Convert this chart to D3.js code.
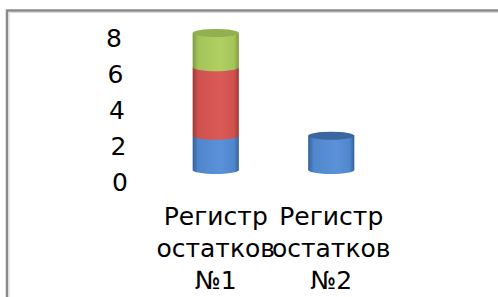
<!DOCTYPE html>
<html>
<head>
<meta charset="utf-8">
<script src="https://cdn.jsdelivr.net/npm/d3@7"></script>
<style>
  body { margin: 0; background: #fff; }
  text { font-family: "DejaVu Sans", Verdana, sans-serif; fill: #000; }
</style>
</head>
<body>
<div id="canvas"></div>
<script>
const width = 498;
const height = 297;

// data
const categories = ["Регистр остатков №1", "Регистр остатков №2"];
const labelLines = [["Регистр", "остатков", "№1"], ["Регистр", "остатков", "№2"]];
const seriesBlue = [2, 2];
const seriesRed = [4, 0];
const seriesGreen = [2, 0];
const tickValues = [0, 2, 4, 6, 8];

const svg = d3.select("#canvas")
    .append("svg")
    .attr("width", width)
    .attr("height", height);

// chart border (runs off the right and bottom edge)
svg.append("rect")
    .attr("x", 7).attr("y", 10.5)
    .attr("width", 600).attr("height", 400)
    .attr("fill", "none")
    .attr("stroke", "#8a8a8a")
    .attr("stroke-width", 2.5);
svg.append("rect")
    .attr("x", 9).attr("y", 12.5)
    .attr("width", 600).attr("height", 400)
    .attr("fill", "none")
    .attr("stroke", "#d8d8d8")
    .attr("stroke-width", 1);

const x = d3.scaleBand()
    .domain(categories)
    .range([158, 389]);

// bar plane (front) and axis plane (back wall) of the 3d chart
const y = d3.scaleLinear().domain([0, 8]).range([170, 33]);
const yAxis = d3.scaleLinear().domain([0, 8]).range([182, 38]);
const xAxis = d3.scaleLinear().domain([0, 8]).range([128, 122]);

svg.append("g").selectAll("text")
    .data(tickValues)
    .join("text")
    .attr("x", d => xAxis(d))
    .attr("y", d => yAxis(d))
    .attr("dy", "0.36em")
    .attr("text-anchor", "end")
    .attr("font-size", 25)
    .text(d => d);

// gradients for cylinders
const defs = svg.append("defs");
const palette = [
    {id: "blue", dark: "#35609a", mid: "#5b91d8", light: "#4f86cc", top: "#3b66a0"},
    {id: "red", dark: "#9c3a37", mid: "#da5a57", light: "#cf514e", top: "#b04a47"},
    {id: "green", dark: "#7f9a3f", mid: "#b0d062", light: "#a4c45a", top: "#93b050"}
];
palette.forEach(p => {
    const g = defs.append("linearGradient").attr("id", "g-" + p.id)
        .attr("x1", "0%").attr("x2", "100%").attr("y1", "0%").attr("y2", "0%");
    g.append("stop").attr("offset", "0%").attr("stop-color", p.dark);
    g.append("stop").attr("offset", "12%").attr("stop-color", p.light);
    g.append("stop").attr("offset", "60%").attr("stop-color", p.mid);
    g.append("stop").attr("offset", "90%").attr("stop-color", p.light);
    g.append("stop").attr("offset", "100%").attr("stop-color", p.dark);
});

const series = [seriesBlue, seriesRed, seriesGreen];
const barW = x.bandwidth() * 0.4;
const rx = barW / 2;
const ry = 4;

categories.forEach((c, i) => {
    const cx = x(c) + x.bandwidth() / 2;
    const x0 = cx - rx, x1 = cx + rx;
    let base = 0;
    let topIdx = -1;
    series.forEach((s, k) => {
        const v = s[i];
        if (!v) return;
        const yb = y(base), yt = y(base + v);
        svg.append("path")
            .attr("d", `M${x0},${yt} L${x0},${yb} A${rx},${ry} 0 0 0 ${x1},${yb} L${x1},${yt} Z`)
            .attr("fill", `url(#g-${palette[k].id})`);
        base += v;
        topIdx = k;
    });
    if (topIdx >= 0) {
        svg.append("ellipse")
            .attr("cx", cx).attr("cy", y(base))
            .attr("rx", rx).attr("ry", ry)
            .attr("fill", palette[topIdx].top);
    }
});

// category labels
const labels = svg.append("g");
categories.forEach((c, i) => {
    const cx = x(c) + x.bandwidth() / 2;
    labels.append("text")
        .attr("text-anchor", "middle")
        .attr("font-size", 25)
        .selectAll("tspan")
        .data(labelLines[i])
        .join("tspan")
        .attr("x", cx)
        .attr("y", (d, j) => 225 + j * 32)
        .text(d => d);
});
</script>
</body>
</html>
